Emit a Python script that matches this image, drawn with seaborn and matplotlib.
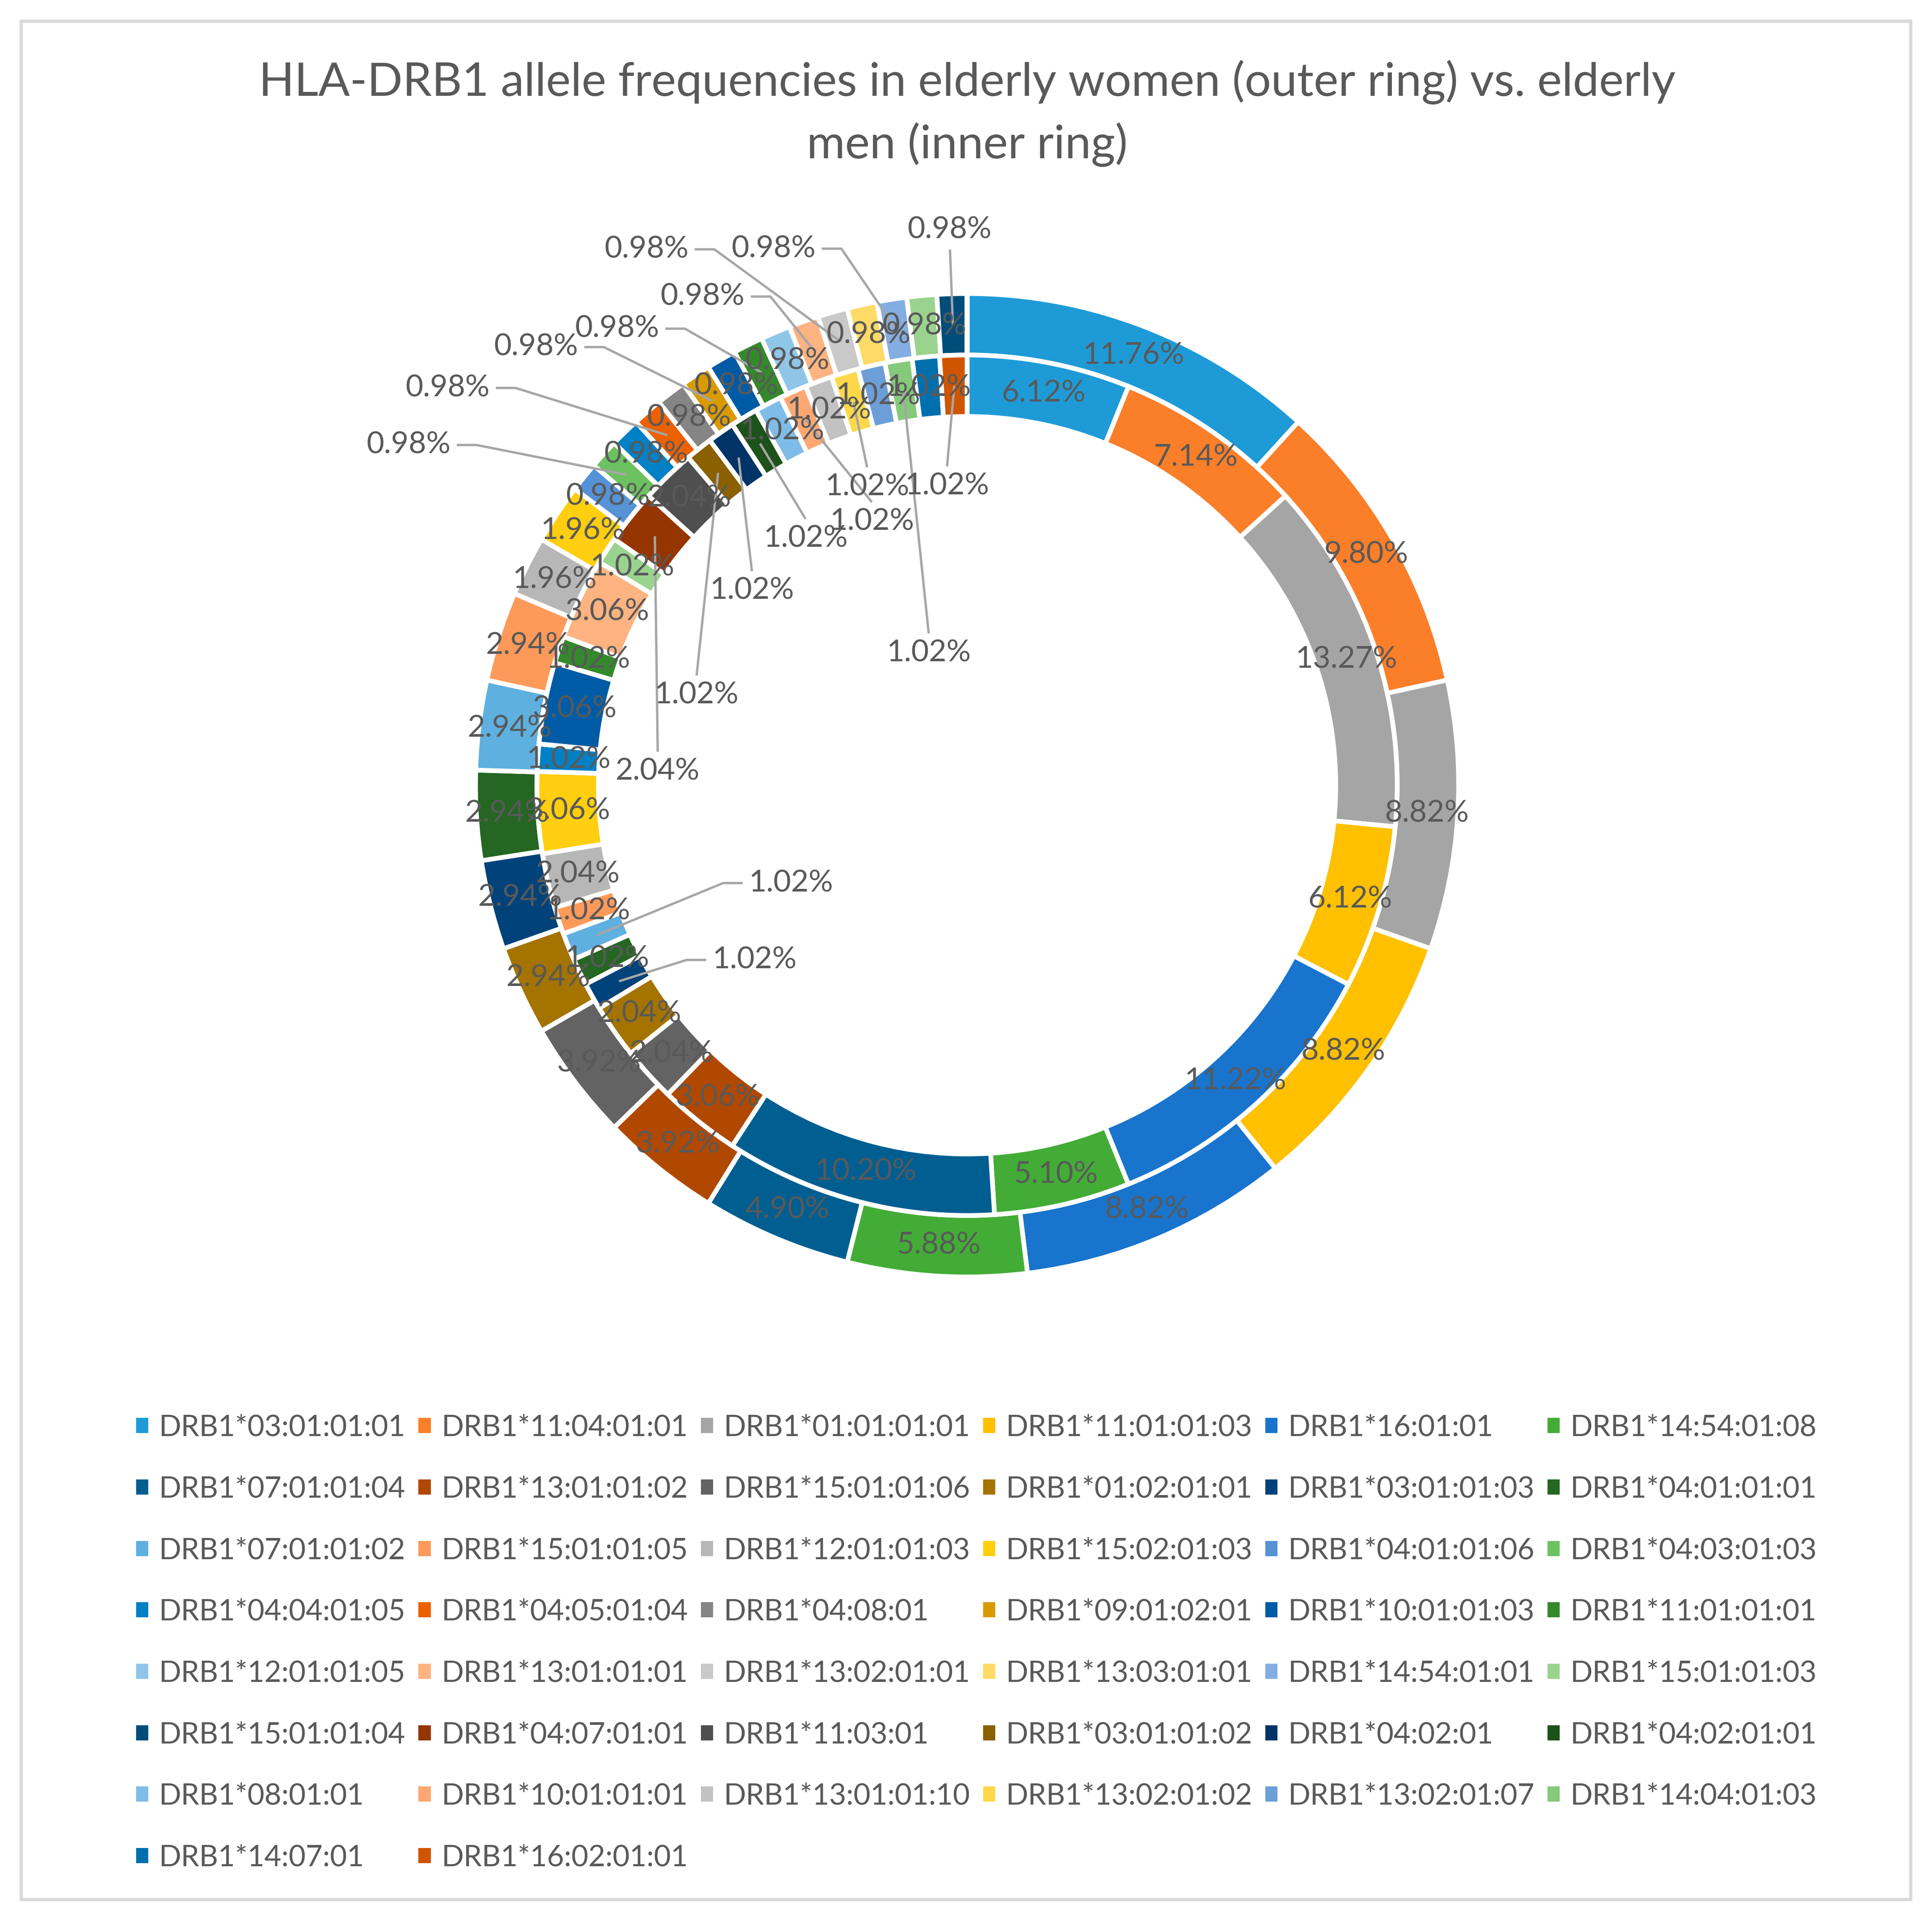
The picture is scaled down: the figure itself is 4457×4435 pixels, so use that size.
import numpy as np
import seaborn as sns
import matplotlib.pyplot as plt
from matplotlib.patches import Patch, Rectangle

sns.set_theme(style="white")
plt.rcParams['font.family'] = ['Lato', 'DejaVu Sans']

# allele names in legend order
alleles = [
    "DRB1*03:01:01:01", "DRB1*11:04:01:01", "DRB1*01:01:01:01", "DRB1*11:01:01:03", "DRB1*16:01:01", "DRB1*14:54:01:08",
    "DRB1*07:01:01:04", "DRB1*13:01:01:02", "DRB1*15:01:01:06", "DRB1*01:02:01:01", "DRB1*03:01:01:03", "DRB1*04:01:01:01",
    "DRB1*07:01:01:02", "DRB1*15:01:01:05", "DRB1*12:01:01:03", "DRB1*15:02:01:03", "DRB1*04:01:01:06", "DRB1*04:03:01:03",
    "DRB1*04:04:01:05", "DRB1*04:05:01:04", "DRB1*04:08:01", "DRB1*09:01:02:01", "DRB1*10:01:01:03", "DRB1*11:01:01:01",
    "DRB1*12:01:01:05", "DRB1*13:01:01:01", "DRB1*13:02:01:01", "DRB1*13:03:01:01", "DRB1*14:54:01:01", "DRB1*15:01:01:03",
    "DRB1*15:01:01:04", "DRB1*04:07:01:01", "DRB1*11:03:01", "DRB1*03:01:01:02", "DRB1*04:02:01", "DRB1*04:02:01:01",
    "DRB1*08:01:01", "DRB1*10:01:01:01", "DRB1*13:01:01:10", "DRB1*13:02:01:02", "DRB1*13:02:01:07", "DRB1*14:04:01:03",
    "DRB1*14:07:01", "DRB1*16:02:01:01",
]

# outer ring: elderly women (%)
women_pct = [
    11.76, 9.80, 8.82, 8.82, 8.82, 5.88,
    4.90, 3.92, 3.92, 2.94, 2.94, 2.94,
    2.94, 2.94, 1.96, 1.96, 0.98, 0.98,
    0.98, 0.98, 0.98, 0.98, 0.98, 0.98,
    0.98, 0.98, 0.98, 0.98, 0.98, 0.98,
    0.98, 0, 0, 0, 0, 0,
    0, 0, 0, 0, 0, 0,
    0, 0,
]

# inner ring: elderly men (%)
men_pct = [
    6.12, 7.14, 13.27, 6.12, 11.22, 5.10,
    10.20, 3.06, 2.04, 2.04, 1.02, 1.02,
    1.02, 1.02, 2.04, 3.06, 0, 0,
    1.02, 0, 0, 0, 3.06, 1.02,
    0, 3.06, 0, 0, 0, 1.02,
    0, 2.04, 2.04, 1.02, 1.02, 1.02,
    1.02, 1.02, 1.02, 1.02, 1.02, 1.02,
    1.02, 1.02,
]

allele_colors = [
    '#1E9BD7', '#FB7E29', '#A5A5A5', '#FFC000', '#1874CD', '#43AC36',
    '#005E91', '#B04800', '#636363', '#A57300', '#00427A', '#246622',
    '#5EB0E0', '#FD9A5A', '#B7B7B7', '#FFCE0F', '#5592D6', '#6CC160',
    '#0080C5', '#EB6100', '#858585', '#D99A00', '#005BA6', '#34892B',
    '#8FC6E8', '#FFB380', '#C9C9C9', '#FFDA66', '#84AEE2', '#9AD38D',
    '#004D7A', '#953500', '#4F4F4F', '#8A6000', '#003366', '#1D531A',
    '#7FBDE8', '#FFA772', '#C2C2C2', '#FFD84A', '#6C9ED8', '#85C97A',
    '#006FAE', '#D05500',
]

# slices whose label sits away from the slice, with a leader line
outer_callouts = ["DRB1*04:03:01:03", "DRB1*04:05:01:04", "DRB1*09:01:02:01", "DRB1*11:01:01:01",
                  "DRB1*13:01:01:01", "DRB1*13:02:01:01", "DRB1*14:54:01:01", "DRB1*15:01:01:04"]
inner_callouts = ["DRB1*03:01:01:03", "DRB1*07:01:01:02", "DRB1*04:07:01:01", "DRB1*03:01:01:02",
                  "DRB1*04:02:01", "DRB1*04:02:01:01", "DRB1*10:01:01:01", "DRB1*13:02:01:02",
                  "DRB1*14:04:01:03", "DRB1*16:02:01:01"]
# where those labels go: radius (ring units) and angle shift from the slice middle (deg)
outer_callout_r = [1.33, 1.33, 1.25, 1.17, 1.13, 1.27, 1.16, 1.13]
outer_callout_shift = [11, 12, 11, 11, 9, 15, 11, 0]
inner_callout_r = [0.56, 0.41, 0.63, 0.58, 0.59, 0.6, 0.57, 0.64, 0.28, 0.61]
inner_callout_shift = [10, 7, 36, 33, 13, 2, -4, 2, 7, 2]

title = "HLA-DRB1 allele frequencies in elderly women (outer ring) vs. elderly\nmen (inner ring)"

TXT = '#595959'
LEADER = '#A6A6A6'
W, H, DPI = 4457, 4435, 300
LBL_FS = 16.8
LEG_FS = 16.2

fig = plt.figure(figsize=(W / DPI, H / DPI), dpi=DPI)

# donut: centre (2231, 1811) px from top-left, radius 1134 px
cx, cy, R, span = 2231, H - 1811, 1134, 1.4
half = span * R
ax = fig.add_axes([(cx - half) / W, (cy - half) / H, 2 * half / W, 2 * half / H])

ring = dict(width=0.125, edgecolor='white', linewidth=2.6)
outer_wedges, _ = ax.pie(women_pct, radius=1.0, colors=allele_colors, startangle=90,
                         counterclock=False, wedgeprops=ring)
inner_wedges, _ = ax.pie(men_pct, radius=0.875, colors=allele_colors, startangle=90,
                         counterclock=False, wedgeprops=ring)
ax.set_xlim(-span, span)
ax.set_ylim(-span, span)
ax.set_aspect('equal')
ax.axis('off')

renderer = fig.canvas.get_renderer()
to_data = ax.transData.inverted()


def callout(txt, S, T):
    # label at T, leader to slice point S, Excel style (short elbow when it leaves sideways)
    t = ax.text(T[0], T[1], txt, ha='center', va='center', fontsize=LBL_FS, color=TXT, zorder=6)
    bb = t.get_window_extent(renderer)
    (x0, y0), (x1, y1) = to_data.transform([[bb.x0, bb.y0], [bb.x1, bb.y1]])
    hw, hh = (x1 - x0) / 2, (y1 - y0) / 2
    dx, dy = S[0] - T[0], S[1] - T[1]
    gap = 0.012
    if abs(dy) > abs(dx):
        pts = [(T[0], T[1] + np.sign(dy) * (hh + gap)), S]
    else:
        e1 = (T[0] + np.sign(dx) * (hw + gap), T[1])
        e2 = (e1[0] + np.sign(dx) * 0.04, T[1])
        pts = [e1, e2, S]
    xs, ys = zip(*pts)
    ax.plot(xs, ys, color=LEADER, lw=1.3, zorder=4, solid_capstyle='butt')


def ring_labels(wedges, values, r_mid, callouts, radii, shifts):
    for w, v, name in zip(wedges, values, alleles):
        if v <= 0:
            continue
        mid = np.deg2rad((w.theta1 + w.theta2) / 2)
        S = (r_mid * np.cos(mid), r_mid * np.sin(mid))
        txt = f"{v:.2f}%"
        if name in callouts:
            k = callouts.index(name)
            a = mid + np.deg2rad(shifts[k])
            callout(txt, S, (radii[k] * np.cos(a), radii[k] * np.sin(a)))
        else:
            ax.text(S[0], S[1], txt, ha='center', va='center', fontsize=LBL_FS, color=TXT, zorder=6)


ring_labels(outer_wedges, women_pct, 0.9375, outer_callouts, outer_callout_r, outer_callout_shift)
ring_labels(inner_wedges, men_pct, 0.8125, inner_callouts, inner_callout_r, inner_callout_shift)

# baseline of the last title line
fig.text(cx / W, 1 - 365 / H, title, ha='center', va='baseline', fontsize=25.8,
         color=TXT, linespacing=1.5)

# legend, filled row by row like the original
order = [i for c in range(6) for i in range(c, len(alleles), 6)]
handles = [Patch(facecolor=allele_colors[i], edgecolor='none', label=alleles[i]) for i in order]
fs_px = LEG_FS * DPI / 72
probe = fig.text(0, 0, alleles[0], fontsize=LEG_FS)
tw = probe.get_window_extent(renderer).width
probe.remove()
hl, htp = 0.42, 0.37
colsp = (651 - tw - (hl + htp) * fs_px) / fs_px
fig.legend(handles=handles, ncol=6, loc='upper left', bbox_to_anchor=(314 / W, 1 - 3262 / H),
           frameon=False, fontsize=LEG_FS, labelcolor=TXT, handlelength=hl, handleheight=hl,
           handletextpad=htp, columnspacing=colsp, labelspacing=1.18,
           borderpad=0, borderaxespad=0)

# chart frame
fig.patches.append(Rectangle((49 / W, 54 / H), (W - 98) / W, (H - 103) / H, transform=fig.transFigure,
                             fill=False, edgecolor='#D9D9D9', linewidth=1.8))

fig.savefig('out.png', dpi=DPI, facecolor='white')
